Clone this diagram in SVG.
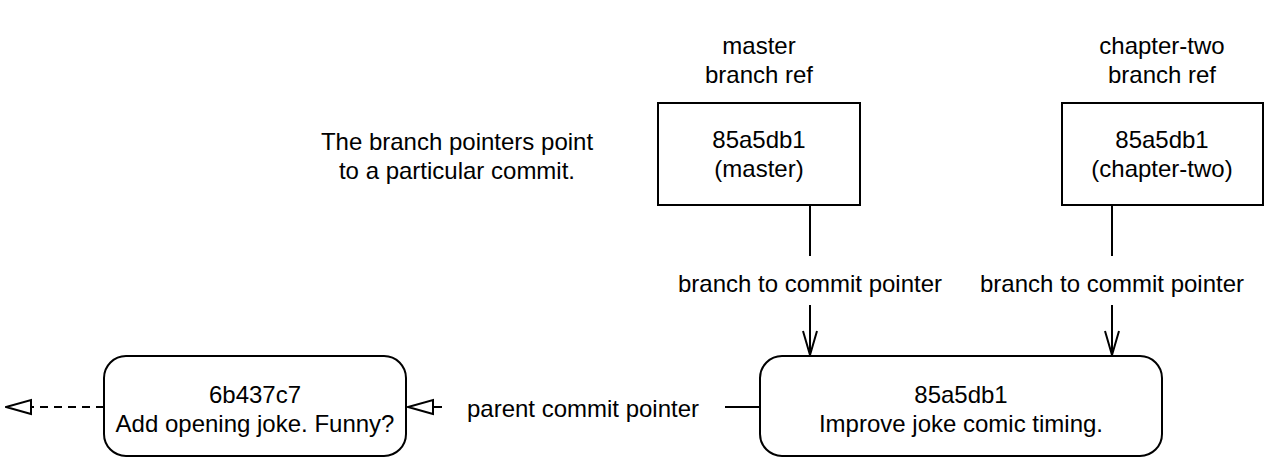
<svg xmlns="http://www.w3.org/2000/svg" width="1266" height="460" viewBox="0 0 1266 460">
<style>
text{font-family:"Liberation Sans",Arial,Helvetica,sans-serif;font-size:24px;fill:#000;text-anchor:middle}
.box{fill:#fff;stroke:#000;stroke-width:2}
.ln{fill:none;stroke:#000;stroke-width:2}
.dash{stroke-dasharray:8 6}
</style>
<defs>
<marker id="tri" markerUnits="userSpaceOnUse" markerWidth="30" markerHeight="20" viewBox="0 0 30 20" refX="29" refY="10" orient="auto">
<path d="M4 3 L29 10 L4 17 Z" fill="#fff" stroke="#000" stroke-width="2"/>
</marker>
<marker id="vee" markerUnits="userSpaceOnUse" markerWidth="20" markerHeight="30" viewBox="0 0 20 30" refX="10" refY="28" orient="0">
<path d="M3 4 L10 28 L17 4" fill="none" stroke="#000" stroke-width="2"/>
</marker>
</defs>
<g id="note">
<text x="457" y="150">The branch pointers point</text>
<text x="457" y="179">to a particular commit.</text>
</g>
<g id="master">
<text x="759" y="54">master</text>
<text x="759" y="83">branch ref</text>
<rect class="box" x="658" y="103" width="202" height="102"/>
<text x="759" y="148">85a5db1</text>
<text x="759" y="177">(master)</text>
</g>
<g id="chapter-two">
<text x="1162" y="54">chapter-two</text>
<text x="1162" y="83">branch ref</text>
<rect class="box" x="1062" y="103" width="201" height="102"/>
<text x="1162" y="148">85a5db1</text>
<text x="1162" y="177">(chapter-two)</text>
</g>
<g id="commit-85a5db1">
<rect class="box" x="760" y="356" width="402" height="100" rx="22"/>
<text x="961" y="403">85a5db1</text>
<text x="961" y="432">Improve joke comic timing.</text>
</g>
<g id="commit-6b437c7">
<rect class="box" x="104" y="356" width="302" height="100" rx="22"/>
<text x="255" y="403">6b437c7</text>
<text x="255" y="432">Add opening joke. Funny?</text>
</g>
<g id="connectors">
<line class="ln" x1="810" y1="205" x2="810" y2="256"/>
<line class="ln" x1="810" y1="305" x2="810" y2="355" marker-end="url(#vee)"/>
<text x="810" y="292">branch to commit pointer</text>
<line class="ln" x1="1112" y1="205" x2="1112" y2="256"/>
<line class="ln" x1="1112" y1="305" x2="1112" y2="355" marker-end="url(#vee)"/>
<text x="1112" y="292">branch to commit pointer</text>
<line class="ln" x1="760" y1="407" x2="725" y2="407"/>
<text x="583" y="417">parent commit pointer</text>
<line class="ln" x1="442" y1="407" x2="408" y2="407" marker-end="url(#tri)"/>
<line class="ln dash" x1="104" y1="407" x2="6" y2="407" marker-end="url(#tri)"/>
</g>
</svg>
